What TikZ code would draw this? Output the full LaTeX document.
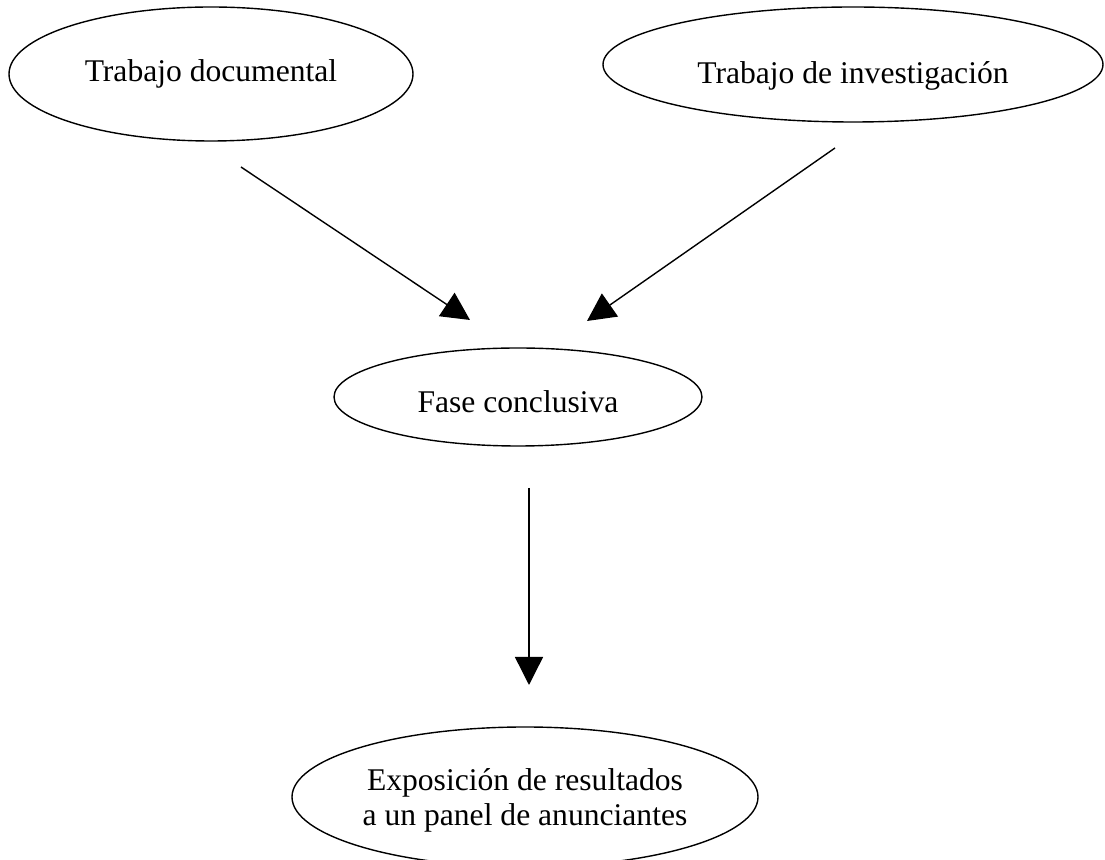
\documentclass[tikz,border=0pt]{standalone}
\usepackage{fontspec}
\setmainfont{Liberation Serif}
\usetikzlibrary{shapes.geometric,arrows.meta}
\newcommand{\bajar}[2]{\raisebox{-#1}[\height][\depth]{#2}}
\begin{document}
\begin{tikzpicture}[x=0.5pt,y=-0.5pt,
  oval/.style={draw,ellipse,line width=0.7pt,inner sep=0pt,
    font=\fontsize{15.8}{17.5}\selectfont},
  flecha/.style={line width=0.7pt,-{Triangle[length=14pt,width=14pt]}}]
  \useasboundingbox (0,0) rectangle (1105,860);
  \node[oval,minimum width=202pt,minimum height=67pt] (doc) at (211,74) {Trabajo documental};
  \node[oval,minimum width=250pt,minimum height=57.5pt] (inv) at (853,64.5) {\bajar{5.5pt}{Trabajo de investigación}};
  \node[oval,minimum width=184pt,minimum height=49pt] (fase) at (518,397) {\bajar{2.5pt}{Fase conclusiva}};
  \node[oval,minimum width=233pt,minimum height=70pt] (expo) at (525,797)
    {\bajar{2.2pt}{\begin{tabular}{@{}c@{}}Exposición de resultados\\a un panel de anunciantes\end{tabular}}};
  \coordinate (doc-s) at (241,167);
  \coordinate (inv-s) at (835,148);
  \coordinate (fase-a) at (470,320);
  \coordinate (fase-b) at (587,321);
  \coordinate (fase-s) at (529,488);
  \coordinate (expo-a) at (529,685);
  \draw[flecha] (doc-s) -- (fase-a);
  \draw[flecha] (inv-s) -- (fase-b);
  \draw[flecha] (fase-s) -- (expo-a);
\end{tikzpicture}
\end{document}
